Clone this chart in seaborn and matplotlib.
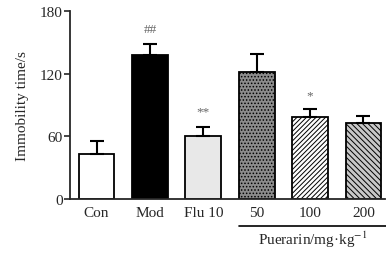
import seaborn as sns
import numpy as np
import pandas as pd
import matplotlib.pyplot as plt
import matplotlib.transforms as mtransforms

# group labels and values
groups = ['Con', 'Mod', 'Flu 10', '50', '100', '200']
means = [43, 138, 60, 122, 78, 73]
errs = [12, 10, 9, 17, 8, 6]
marks = ['', '##', '**', '', '*', '']
mark_y = [0, 163, 84, 0, 99, 0]

colors = ['white', 'black', '#e8e8e8', '#8c8c8c', 'white', '#c8c8c8']
hatches = [None, None, None, '.....', '///////', '\\\\\\\\\\\\']

sns.set_style('ticks')
plt.rcParams['font.family'] = ['Liberation Serif', 'DejaVu Serif']
plt.rcParams['mathtext.fontset'] = 'stix'
plt.rcParams['hatch.linewidth'] = 0.7
plt.rcParams['hatch.color'] = '#404040'

df = pd.DataFrame({'group': groups, 'value': means})

fig = plt.figure(figsize=(3.86, 2.55), dpi=100)
ax = fig.add_axes([0.181, 0.216, 0.816, 0.737])

sns.barplot(data=df, x='group', y='value', hue='group', palette=colors,
            legend=False, width=0.67, edgecolor='black', linewidth=1.3,
            errorbar=None, ax=ax)

# bars sorted by position so hatches line up with groups
bars = sorted(ax.patches, key=lambda p: p.get_x())
for bar, h in zip(bars, hatches):
    if h:
        bar.set_hatch(h)

# upper error bars only
x = np.arange(len(groups))
ax.errorbar(x, means, yerr=[np.zeros(len(errs)), errs], fmt='none',
            ecolor='black', elinewidth=1.5, capsize=5, capthick=1.5, zorder=1)

for xi, m, my in zip(x, marks, mark_y):
    if m:
        ax.text(xi, my, m, ha='center', va='center', fontsize=9.5, color='#666666')

ax.set_xlim(-0.5, 5.4)
ax.set_ylim(0, 180)
ax.set_yticks([0, 60, 120, 180])
ax.set_xlabel('')
ax.set_ylabel('Immobility time/s', fontsize=11, labelpad=8)
ax.tick_params(axis='y', length=4, width=1.2, labelsize=11, pad=1)
ax.tick_params(axis='x', length=0, labelsize=11, pad=5)
sns.despine(ax=ax)
for s in ['left', 'bottom']:
    ax.spines[s].set_linewidth(1.3)

# puerarin dose bracket under the last three groups
trans = mtransforms.blended_transform_factory(ax.transData, ax.transAxes)
ax.plot([2.66, 5.43], [-0.145, -0.145], color='black', lw=1.2,
        transform=trans, clip_on=False)
ax.text(4.05, -0.16, 'Puerarin/mg\u00b7kg$^{-1}$', ha='center', va='top',
        fontsize=11, transform=trans)

fig.savefig('out.png', dpi=100)
